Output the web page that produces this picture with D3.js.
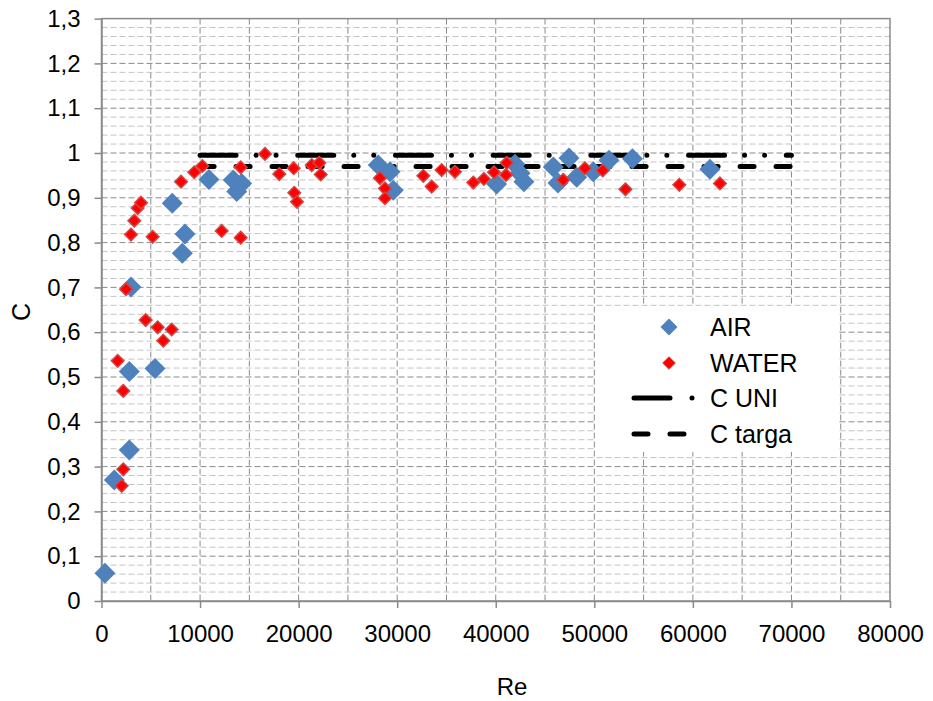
<!DOCTYPE html>
<html>
<head>
<meta charset="utf-8">
<script src="https://cdn.jsdelivr.net/npm/d3@7"></script>
<style>
    body { margin: 0; background: #fff; }
    text { font-family: "Liberation Sans", Arial, sans-serif; fill: #000; }
</style>
</head>
<body>
<div id="chart"></div>
<script>
// AIR series (Re, C)
let airRe = [350, 1300, 2820, 2820, 5430, 2990, 7180, 8470, 8200, 10900, 13370, 14220, 13720,
    28080, 29270, 29600, 40090, 41950, 42460, 42860, 45840, 47430, 46310, 48210, 49890, 51490, 53870, 61730];
let airC = [0.062, 0.270, 0.337, 0.512, 0.519, 0.701, 0.888, 0.819, 0.776, 0.941, 0.940, 0.932, 0.914,
    0.973, 0.958, 0.917, 0.931, 0.975, 0.955, 0.936, 0.969, 0.989, 0.933, 0.946, 0.958, 0.984, 0.987, 0.964];

// WATER series (Re, C)
let waterRe = [2050, 2210, 2210, 1640, 2490, 4480, 5700, 7120, 6270, 2990, 3330, 3670, 4010, 5190,
    8070, 9410, 10230, 12190, 14120, 14120, 16590, 18040, 19500, 19560, 19830, 21330, 22100, 22240,
    28250, 28760, 28760, 32650, 33500, 34510, 35860, 37720, 38800, 39820, 41110, 41040, 46850, 49050,
    50850, 53160, 58620, 62750];
let waterC = [0.257, 0.294, 0.469, 0.536, 0.696, 0.627, 0.611, 0.606, 0.581, 0.818, 0.849, 0.877, 0.889, 0.813,
    0.936, 0.957, 0.971, 0.826, 0.811, 0.968, 0.998, 0.953, 0.966, 0.911, 0.891, 0.973, 0.978, 0.952,
    0.944, 0.921, 0.899, 0.949, 0.925, 0.962, 0.958, 0.934, 0.942, 0.957, 0.978, 0.951, 0.940, 0.966,
    0.961, 0.919, 0.929, 0.932];

// reference lines
let lineRe = [10000, 70000];
let cUni = [0.995, 0.995];
let cTarga = [0.97, 0.97];

let xTicks = [0, 10000, 20000, 30000, 40000, 50000, 60000, 70000, 80000];
let xTickLabels = ["0", "10000", "20000", "30000", "40000", "50000", "60000", "70000", "80000"];
let yTicks = [0, 0.1, 0.2, 0.3, 0.4, 0.5, 0.6, 0.7, 0.8, 0.9, 1, 1.1, 1.2, 1.3];
let yTickLabels = ["0", "0,1", "0,2", "0,3", "0,4", "0,5", "0,6", "0,7", "0,8", "0,9", "1", "1,1", "1,2", "1,3"];

let width = 933;
let height = 701;
let plot = {left: 101.5, right: 890, top: 18.6, bottom: 601};

let svg = d3.select("#chart")
    .append("svg")
    .attr("width", width)
    .attr("height", height);

let x = d3.scaleLinear().domain([0, 80000]).range([plot.left, plot.right]);
let y = d3.scaleLinear().domain([0, 1.3]).range([plot.bottom, plot.top]);

// minor horizontal grid every 0.02
let minor = d3.range(0, 1.3001, 0.02).filter(v => Math.abs(v * 10 - Math.round(v * 10)) > 0.01);
svg.append("g")
    .selectAll("line")
    .data(minor)
    .enter()
    .append("line")
    .attr("x1", plot.left).attr("x2", plot.right)
    .attr("y1", d => y(d)).attr("y2", d => y(d))
    .attr("stroke", "#c4c4c4")
    .attr("stroke-width", 1)
    .attr("stroke-dasharray", "6,3");

// major horizontal grid every 0.1
svg.append("g")
    .selectAll("line")
    .data(yTicks.slice(1, -1))
    .enter()
    .append("line")
    .attr("x1", plot.left).attr("x2", plot.right)
    .attr("y1", d => y(d)).attr("y2", d => y(d))
    .attr("stroke", "#8a8a8a")
    .attr("stroke-width", 1)
    .attr("stroke-dasharray", "6,3");

// vertical grid every 5000
svg.append("g")
    .selectAll("line")
    .data(d3.range(5000, 80000, 5000))
    .enter()
    .append("line")
    .attr("x1", d => x(d)).attr("x2", d => x(d))
    .attr("y1", plot.top).attr("y2", plot.bottom)
    .attr("stroke", "#8a8a8a")
    .attr("stroke-width", 1)
    .attr("stroke-dasharray", "6,3");

// plot border
svg.append("rect")
    .attr("x", plot.left).attr("y", plot.top)
    .attr("width", plot.right - plot.left)
    .attr("height", plot.bottom - plot.top)
    .attr("fill", "none")
    .attr("stroke", "#8a8a8a")
    .attr("stroke-width", 1.5);

// axes
let yAxis = d3.axisLeft(y)
    .tickValues(yTicks)
    .tickSize(7)
    .tickSizeOuter(0)
    .tickPadding(14)
    .tickFormat((d, i) => yTickLabels[i]);

let xAxis = d3.axisBottom(x)
    .tickValues(xTicks)
    .tickSize(7)
    .tickSizeOuter(0)
    .tickPadding(12)
    .tickFormat((d, i) => xTickLabels[i]);

let gy = svg.append("g")
    .attr("transform", "translate(" + plot.left + ",0)")
    .call(yAxis);
gy.selectAll("text").style("font-size", "24px").attr("font-family", null);

let gx = svg.append("g")
    .attr("transform", "translate(0," + plot.bottom + ")")
    .call(xAxis);
gx.selectAll("text").style("font-size", "24px").attr("dy", "0.9em");

svg.selectAll(".domain, .tick line")
    .attr("stroke", "#8a8a8a")
    .attr("stroke-width", 1.5);

// axis titles
svg.append("text")
    .attr("x", 512)
    .attr("y", 695)
    .attr("text-anchor", "middle")
    .style("font-size", "24px")
    .text("Re");

svg.append("text")
    .attr("transform", "translate(21,312) rotate(-90)")
    .attr("text-anchor", "middle")
    .attr("dominant-baseline", "central")
    .style("font-size", "25px")
    .text("C");

// reference lines
let line = d3.line().x(d => x(d[0])).y(d => y(d[1]));

svg.append("path")
    .datum(lineRe.map((r, i) => [r, cUni[i]]))
    .attr("d", line)
    .attr("fill", "none")
    .attr("stroke", "#000")
    .attr("stroke-width", 5)
    .attr("stroke-linecap", "round")
    .attr("stroke-dasharray", "36,20,0,20,0,21.7");

svg.append("path")
    .datum(lineRe.map((r, i) => [r, cTarga[i]]))
    .attr("d", line)
    .attr("fill", "none")
    .attr("stroke", "#000")
    .attr("stroke-width", 5)
    .attr("stroke-linecap", "round")
    .attr("stroke-dasharray", "14,22");

// diamond marker
function diamond(r) {
    return "M0," + (-r) + "L" + r + ",0L0," + r + "L" + (-r) + ",0Z";
}

let airData = airRe.map((r, i) => ({re: r, c: airC[i]}));
let waterData = waterRe.map((r, i) => ({re: r, c: waterC[i]}));

svg.append("g")
    .selectAll("path")
    .data(airData)
    .enter()
    .append("path")
    .attr("d", diamond(10.5))
    .attr("transform", d => "translate(" + x(d.re) + "," + y(d.c) + ")")
    .attr("fill", "#4f81bd");

svg.append("g")
    .selectAll("path")
    .data(waterData)
    .enter()
    .append("path")
    .attr("d", diamond(6.3))
    .attr("transform", d => "translate(" + x(d.re) + "," + y(d.c) + ")")
    .attr("fill", "#ff0000")
    .attr("stroke", "#d04545")
    .attr("stroke-width", 1.5);

// legend
let legend = svg.append("g");

legend.append("rect")
    .attr("x", 596)
    .attr("y", 306)
    .attr("width", 242)
    .attr("height", 146)
    .attr("fill", "#fff");

legend.append("path")
    .attr("d", diamond(8.5))
    .attr("transform", "translate(669,327)")
    .attr("fill", "#4f81bd");

legend.append("path")
    .attr("d", diamond(6.3))
    .attr("transform", "translate(669,363)")
    .attr("fill", "#ff0000")
    .attr("stroke", "#d04545")
    .attr("stroke-width", 1);

legend.append("line")
    .attr("x1", 634).attr("x2", 670)
    .attr("y1", 398).attr("y2", 398)
    .attr("stroke", "#000").attr("stroke-width", 5)
    .attr("stroke-linecap", "round");

legend.append("line")
    .attr("x1", 692).attr("x2", 692)
    .attr("y1", 398).attr("y2", 398)
    .attr("stroke", "#000").attr("stroke-width", 5)
    .attr("stroke-linecap", "round");

legend.append("line")
    .attr("x1", 634).attr("x2", 686)
    .attr("y1", 434).attr("y2", 434)
    .attr("stroke", "#000").attr("stroke-width", 5)
    .attr("stroke-linecap", "round")
    .attr("stroke-dasharray", "14,22");

let legendNames = ["AIR", "WATER", "C UNI", "C targa"];
let legendY = [327, 363, 398, 434];

legend.selectAll(".ltext")
    .data(legendNames)
    .enter()
    .append("text")
    .attr("class", "ltext")
    .attr("x", 710)
    .attr("y", (d, i) => legendY[i])
    .attr("dominant-baseline", "central")
    .style("font-size", "25px")
    .text(d => d);
</script>
</body>
</html>
